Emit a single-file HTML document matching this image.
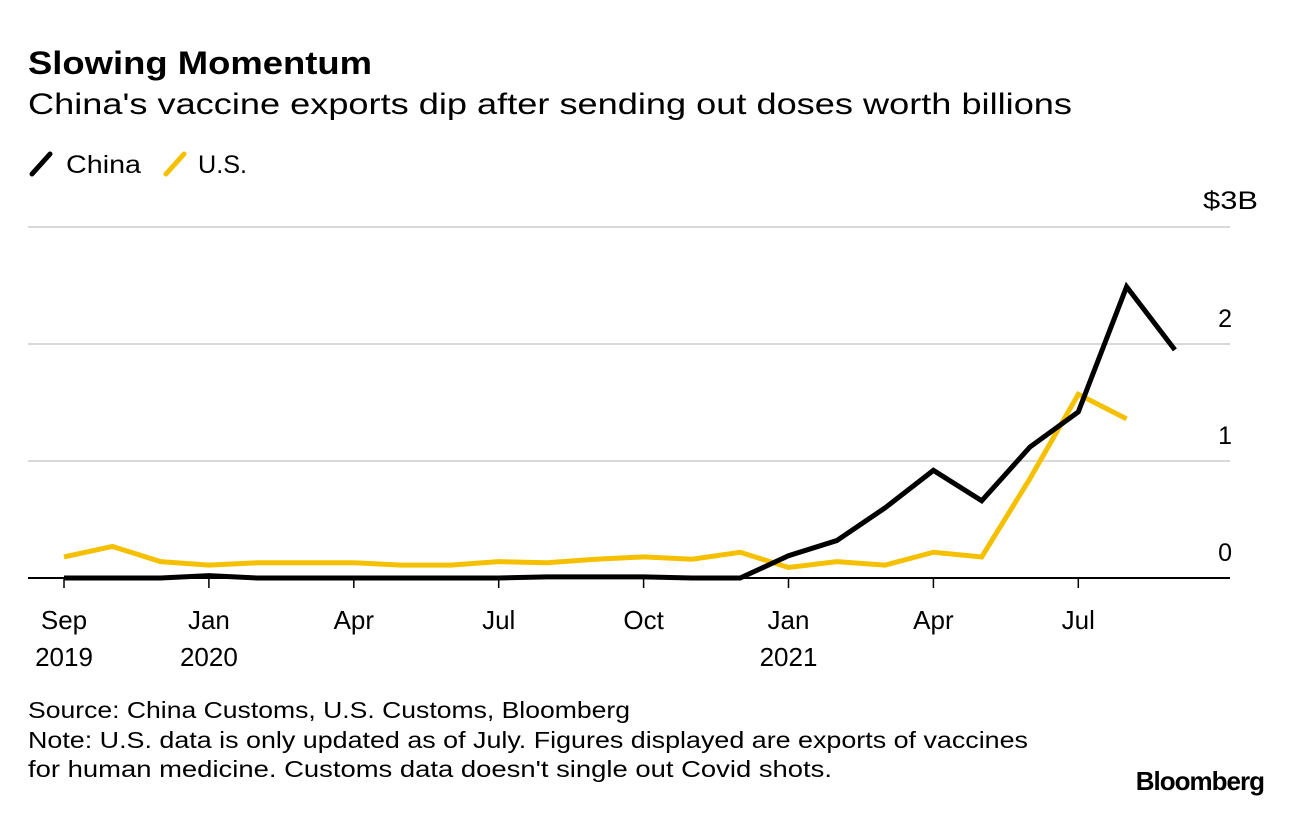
<!DOCTYPE html>
<html><head><meta charset="utf-8"><style>
body{margin:0;width:1292px;height:808px;background:#fff;font-family:"Liberation Sans",sans-serif;color:#000;overflow:hidden}
svg text{font-family:"Liberation Sans",sans-serif}
</style></head><body>
<svg width="1292" height="808">
<text x="28" y="74" font-size="32" font-weight="bold" textLength="344" lengthAdjust="spacingAndGlyphs">Slowing Momentum</text>
<text x="28" y="114" font-size="30" textLength="1044" lengthAdjust="spacingAndGlyphs">China's vaccine exports dip after sending out doses worth billions</text>
<g>
<line x1="32" y1="174" x2="50" y2="154" stroke="#000" stroke-width="5" stroke-linecap="round"/>
<text x="66" y="173" font-size="25" textLength="75" lengthAdjust="spacingAndGlyphs">China</text>
<line x1="166" y1="174" x2="184" y2="154" stroke="#f5c000" stroke-width="5" stroke-linecap="round"/>
<text x="198" y="173" font-size="25" textLength="49" lengthAdjust="spacingAndGlyphs">U.S.</text>
</g>
<g id="grid"></g><g id="xaxis"></g><g id="lines"></g>
<text x="28" y="718" font-size="23" textLength="602" lengthAdjust="spacingAndGlyphs">Source: China Customs, U.S. Customs, Bloomberg</text>
<text x="28" y="748" font-size="23" textLength="1000" lengthAdjust="spacingAndGlyphs">Note: U.S. data is only updated as of July. Figures displayed are exports of vaccines</text>
<text x="28" y="777" font-size="23" textLength="804" lengthAdjust="spacingAndGlyphs">for human medicine. Customs data doesn't single out Covid shots.</text>
<text x="1264" y="790" font-size="26" font-weight="bold" text-anchor="end" letter-spacing="-1">Bloomberg</text>
</svg>
<script>
const china=[0,0,0,0.02,0,0,0,0,0,0,0.01,0.01,0.01,0,0,0.19,0.32,0.6,0.92,0.66,1.12,1.42,2.49,1.95];
const us=[0.18,0.27,0.14,0.11,0.13,0.13,0.13,0.11,0.11,0.14,0.13,0.16,0.18,0.16,0.22,0.09,0.14,0.11,0.22,0.18,0.85,1.57,1.36];
const yTicks=[0,1,2,3];
const yLabels=["0","1","2","$3B"];
const xTickIdx=[0,3,6,9,12,15,18,21];
const xTickMonth=["Sep","Jan","Apr","Jul","Oct","Jan","Apr","Jul"];
const xTickYear=["2019","2020","","","","2021","",""];
const NS="http://www.w3.org/2000/svg";
const X=i=>64+i*48.3, Y=v=>578-v*117;
function mk(t,a,p){const e=document.createElementNS(NS,t);for(const k in a)e.setAttribute(k,a[k]);p.appendChild(e);return e;}
const grid=document.getElementById('grid');
yTicks.forEach((v,k)=>{
 const l=mk('line',{x1:28,x2:1230,y1:Y(v),y2:Y(v),stroke:v===0?'#000':'#d9d9d9','stroke-width':2},grid);
 
 
 const last=k===yTicks.length-1;
 const attrs={x:last?1203:1232,y:Y(v)-(last?18:17),'font-size':25,'text-anchor':last?'start':'end'};
 if(last){attrs.textLength=55;attrs.lengthAdjust='spacingAndGlyphs';}
 const t=mk('text',attrs,grid);
 t.textContent=yLabels[k];
 
 
});
const xa=document.getElementById('xaxis');
xTickIdx.forEach((i,k)=>{
 const tk=mk('line',{x1:X(i),x2:X(i),y1:578,y2:588,stroke:'#000','stroke-width':1.5},xa);
 
 
 const t=mk('text',{x:X(i),y:629,'font-size':26,'text-anchor':'middle'},xa);
 t.textContent=xTickMonth[k];
 
 
 if(xTickYear[k]){const y=mk('text',{x:X(i),y:666,'font-size':26,'text-anchor':'middle'},xa);
 y.textContent=xTickYear[k];
 
 }
});
const lg=document.getElementById('lines');
function line(d,c,n){const p=mk('polyline',{points:d.map((v,i)=>X(i)+','+Y(v)).join(' '),fill:'none',stroke:c,'stroke-width':5,'stroke-linejoin':'miter'},lg);
 
 }
line(us,'#f5c000','us-line');
line(china,'#000','china-line');
</script>
</body></html>
